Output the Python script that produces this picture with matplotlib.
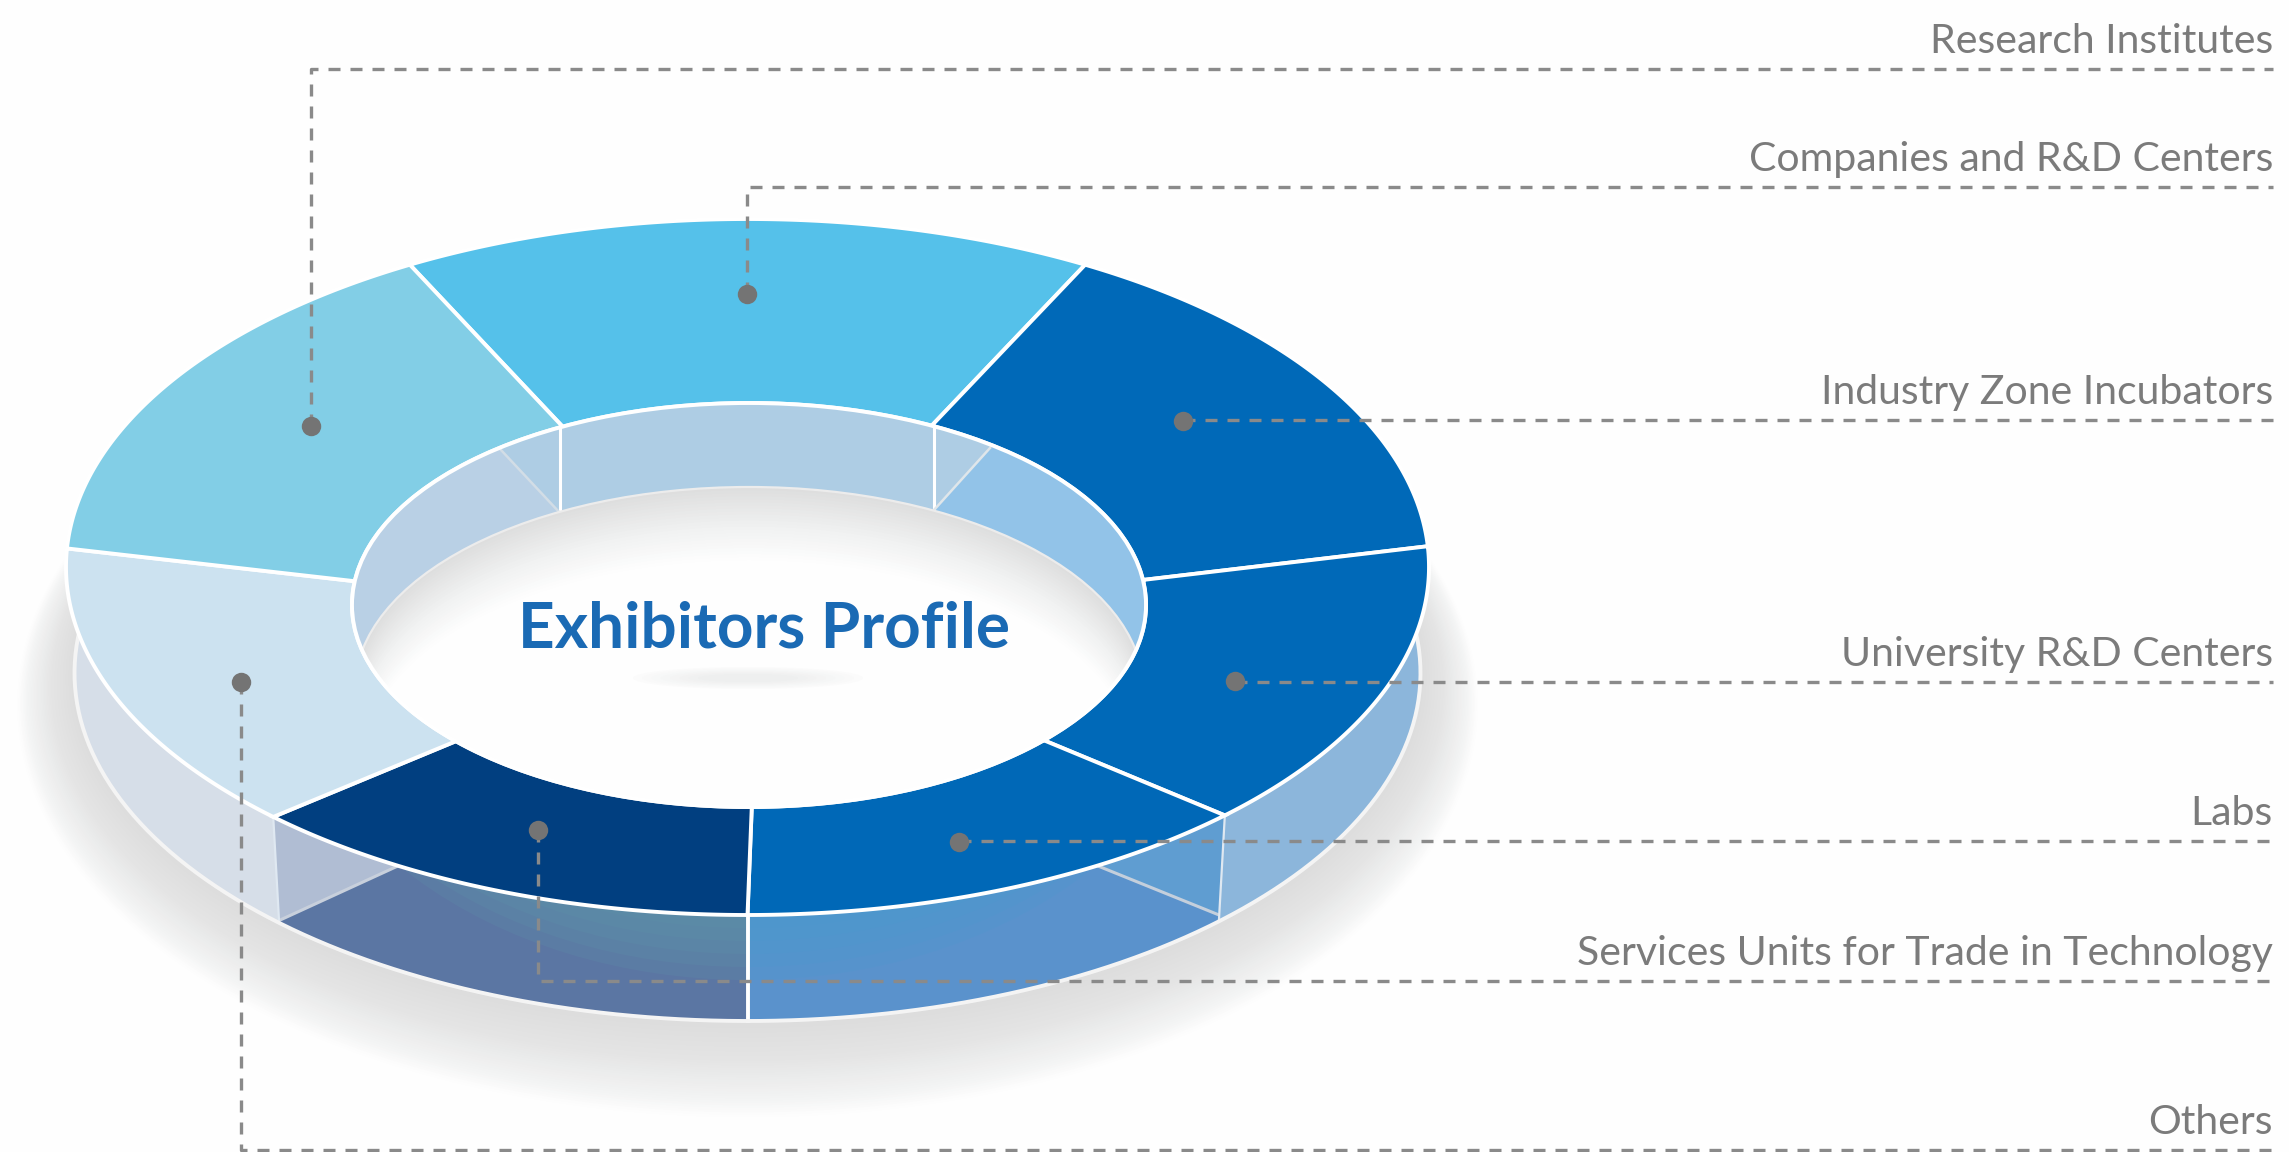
import numpy as np
import matplotlib
matplotlib.use("Agg")
import matplotlib.pyplot as plt
from matplotlib.patches import Ellipse, Polygon

# ---- data (clockwise from the top slice) ----
categories = ["Companies and R&D Centers", "Industry Zone Incubators", "University R&D Centers",
              "Labs", "Services Units for Trade in Technology", "Others", "Research Institutes"]
shares = [16.5, 15.8, 13.6, 12.35, 12.25, 13.6, 15.9]
top_colors = ["#55c1ea", "#0069b8", "#0069b8", "#0068b7", "#013f80", "#cce2f0", "#82cee6"]
wall_colors = [None, None, "#8cb6db", "#5a92cc", "#5b76a3", "#d6dee8", None]
title = "Exhibitors Profile"

# ---- layout ----
W, H = 2289, 1152
CX, CY, RX, RY = 747.5, 567, 681.5, 348
ICX, ICY, IRX, IRY = 749, 605, 397, 202
DEPTH = 106
BRX = 673
FCY, FRX = 689, 394
START = -29.7
INNER_SKEW = [1.7, -2.3, -3.7, -3.5, -0.4, 3.5, 3.7, 1.7]
LEADER_Y = [187, 420, 682, 841, 981, 1150, 69]
ANCHOR_NUDGE = [(-1, -17), (-23, -20), (-16, -4), (7, 1), (-8, -11), (-5, -4), (22, -16)]
RIGHT = 2273
LINE_C = "#8a8a8a"
TEXT_C = "#7b7b7b"
WHITE_LW = 2.8
WALL_FROM, WALL_TO = 78, 282

fig = plt.figure(figsize=(W / 100, H / 100), dpi=100, facecolor="#fefefe")
ax = fig.add_axes([0, 0, 1, 1])
ax.set_xlim(0, W)
ax.set_ylim(H, 0)
ax.axis("off")


def arc(cx, cy, rx, ry, a0, a1, n=120):
    t = np.radians(np.linspace(a0, a1, n))
    return np.column_stack([cx + rx * np.sin(t), cy - ry * np.cos(t)])


def lerp(a, b, t):
    return a + (b - a) * t


def mix(c0, c1, t):
    a, b = np.array(matplotlib.colors.to_rgb(c0)), np.array(matplotlib.colors.to_rgb(c1))
    return tuple(a + (b - a) * t)


edges = START + np.concatenate([[0], np.cumsum(shares)]) / sum(shares) * 360
inner_edges = edges + np.array(INNER_SKEW)

# soft shadow under the ring
n = 40
for i in range(n, -1, -1):
    t = i / n
    if t < .4:
        col = mix("#dcdcdc", "#e4e4e4", t / .4)
    elif t < .85:
        col = mix("#e4e4e4", "#f4f5f5", (t - .4) / .45)
    else:
        col = mix("#f4f5f5", "#fdfdfd", (t - .85) / .15)
    ax.add_patch(Ellipse((CX, lerp(CY + DEPTH + 2, 705, t)), 2 * lerp(BRX, 730, t), 2 * lerp(RY, 412, t),
                         fc=col, ec="none", zorder=1))

# outer side walls (extended a little behind the top face at both ends)
wall_patches = {}
for i, col in enumerate(wall_colors):
    if col is None:
        continue
    a0, a1 = edges[i], edges[i + 1]
    b0 = WALL_FROM if i == 2 else a0
    b1 = WALL_TO if i == 5 else a1
    top = arc(CX, CY, RX, RY, a0, a1)
    bot = arc(CX, CY + DEPTH, BRX, RY, b1, b0)
    wall_patches[i] = ax.add_patch(Polygon(np.vstack([top, bot]), fc=col, ec="none", zorder=2))

# glow along the upper wall edge
for i, col in [(4, "#5f94aa"), (3, "#4b9ad0")]:
    for d in (65, 52, 39, 26, 13):
        e = ax.add_patch(Ellipse((CX, CY + d), 2 * 470, 2 * RY, fc=col, ec="none", alpha=.22, zorder=2.5))
        e.set_clip_path(wall_patches[i])

# translucent look-through panels on the walls
for i, tri, line, col, lc in [
        (4, [(240, 780), (240, 938), (400, 865)], [(278, 921), (400, 865)], "#b0bdd3", "#c8d0dc"),
        (3, [(1250, 780), (1250, 928), (1098, 866)], [(1224, 917), (1098, 866)], "#5f9dd1", "#c4cfdc")]:
    p = ax.add_patch(Polygon(tri, fc=col, ec="none", zorder=3))
    p.set_clip_path(wall_patches[i])
    ln, = ax.plot(*zip(*line), color=lc, lw=2.2, zorder=3.2)
    ln.set_clip_path(wall_patches[i])

# wall edges
for b in edges[2:6]:
    b = (b + 360) % 360
    top = arc(CX, CY, RX, RY, b, b, 1)[0]
    bot = arc(CX, CY + DEPTH, BRX, RY, b, b, 1)[0]
    centre = abs(b - 180) < 2
    if 100 < b < 260:
        ax.plot([top[0], bot[0]], [top[1], bot[1]], color="white" if centre else "#dfe8f1",
                lw=WHITE_LW if centre else 1.6, zorder=3.5)
pts = arc(CX, CY + DEPTH, BRX, RY, WALL_FROM, WALL_TO, 300)
ax.plot(pts[:, 0], pts[:, 1], color="#f4f4f4", lw=WHITE_LW, zorder=3.5)

# top face of the ring
for i, col in enumerate(top_colors):
    outer = arc(CX, CY, RX, RY, edges[i], edges[i + 1])
    inner = arc(ICX, ICY, IRX, IRY, inner_edges[i + 1], inner_edges[i])
    ax.add_patch(Polygon(np.vstack([outer, inner]), fc=col, ec="white", lw=WHITE_LW,
                         joinstyle="miter", zorder=5))

# inner wall and floor, clipped to the hole
hole = ax.add_patch(Ellipse((ICX, ICY), 2 * IRX, 2 * IRY, fc="#aecde4", ec="none", zorder=6))
panels = [([(340, 380), (501, 450), (560, 513), (560, 720), (340, 720)], "#b9d0e5"),
          ([(990, 448), (1160, 380), (1160, 720), (934, 720), (934, 510)], "#92c3e8")]
for poly, col in panels:
    p = ax.add_patch(Polygon(poly, fc=col, ec="none", zorder=6.1))
    p.set_clip_path(hole)
for seg, col, lw in [([(560, 400), (560, 520)], "white", 2.2), ([(934, 400), (934, 520)], "white", 2.2),
                     ([(501, 450), (560, 513)], "#d2dde6", 1.8), ([(990, 448), (934, 510)], "#dfe6ea", 1.8)]:
    ln, = ax.plot(*zip(*seg), color=col, lw=lw, zorder=6.2)
    ln.set_clip_path(hole)
m = 24
for i in range(m + 1):
    t = i / m
    col = mix("#dedede", "#f1f2f2", t / .55) if t < .55 else mix("#f1f2f2", "#fefefe", (t - .55) / .45)
    e = ax.add_patch(Ellipse((ICX, lerp(FCY, 760, t)), 2 * lerp(FRX, 385, t), 2 * lerp(IRY, 200, t),
                             fc=col, ec="none", zorder=6.5))
    e.set_clip_path(hole)
rim = ax.add_patch(Ellipse((ICX, FCY), 2 * FRX, 2 * IRY, fc="none", ec="#ececec", lw=1.6, zorder=6.6))
rim.set_clip_path(hole)
ax.add_patch(Ellipse((ICX, ICY), 2 * IRX, 2 * IRY, fc="none", ec="white", lw=WHITE_LW, zorder=7))

# small shadow below the title
for i in range(8):
    t = i / 7
    ax.add_patch(Ellipse((748, 678), 2 * lerp(115, 50, t), 2 * lerp(11, 4, t), fc=mix("#fbfbfb", "#eeefef", t),
                         ec="none", zorder=7.2))

ax.text(764, 629, title, ha="center", va="center", fontsize=46, fontweight="bold",
        family="Lato", color="#1a6ab4", zorder=9)

# leaders and labels
for i, name in enumerate(categories):
    mid = (edges[i] + edges[i + 1]) / 2
    o, n_ = arc(CX, CY, RX, RY, mid, mid, 1)[0], arc(ICX, ICY, IRX, IRY, mid, mid, 1)[0]
    x = (o[0] + n_[0]) / 2 + ANCHOR_NUDGE[i][0]
    y = (o[1] + n_[1]) / 2 + ANCHOR_NUDGE[i][1]
    ly = LEADER_Y[i]
    if abs(ly - y) < 3:
        xs, ys = [x, RIGHT], [ly, ly]
    else:
        xs, ys = [x, x, RIGHT], [y, ly, ly]
    ax.plot(xs, ys, color=LINE_C, lw=2.4, linestyle=(0, (3.6, 3.0)), zorder=10)
    ax.plot([x], [y], "o", color="#747474", ms=14, mec="none", zorder=11)
    ax.text(RIGHT, ly - 16, name, ha="right", va="baseline", fontsize=29.5, family="Lato",
            color=TEXT_C, zorder=11)

fig.savefig("out.png", dpi=100, facecolor=fig.get_facecolor())
